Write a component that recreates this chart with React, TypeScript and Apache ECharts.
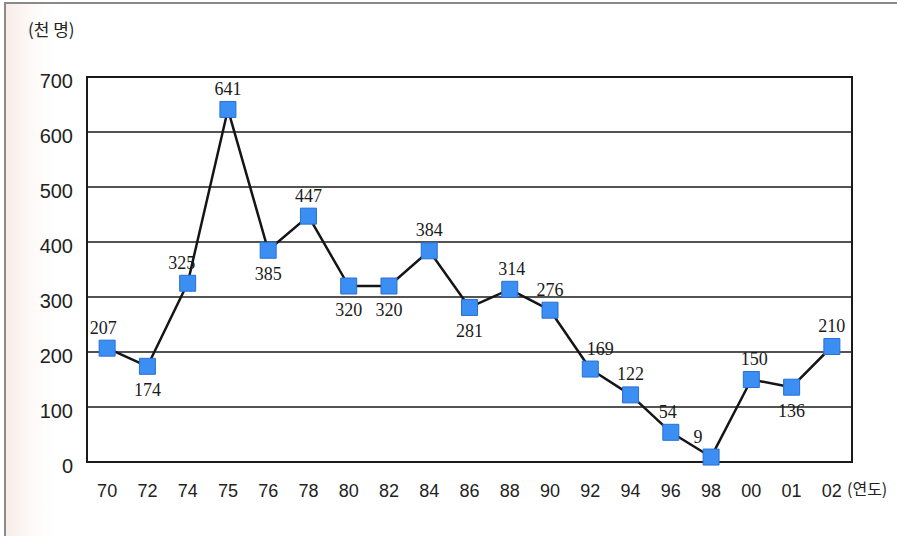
import React, { useEffect, useRef } from "react";
import * as echarts from "echarts";

// Years (two-digit) along the horizontal axis
const years = ["70", "72", "74", "75", "76", "78", "80", "82", "84", "86", "88", "90", "92", "94", "96", "98", "00", "01", "02"];
// Counts in thousands of people
const counts = [207, 174, 325, 641, 385, 447, 320, 320, 384, 281, 314, 276, 169, 122, 54, 9, 150, 136, 210];
// Where each value label sits relative to its marker
const labelSide = ["top", "bottom", "top", "top", "bottom", "top", "bottom", "bottom", "top", "bottom", "top", "top", "top", "top", "top", "top", "top", "bottom", "top"];
// Small horizontal nudges for a few crowded labels
const labelNudge = [-4, 0, -6, 0, 0, 0, 0, 0, 0, 0, 2, 0, 10, 0, -3, -13, 3, 0, 0];
const yTicks = [0, 100, 200, 300, 400, 500, 600, 700];

export default function App() {
  const ref = useRef<HTMLDivElement>(null);

  useEffect(() => {
    if (!ref.current) return;
    const chart = echarts.init(ref.current, null, { renderer: "svg" });

    const data = counts.map((v, i) => ({
      value: v,
      label: {
        position: labelSide[i] as any,
        offset: [labelNudge[i], labelSide[i] === "top" ? 2 : 1],
      },
    }));

    chart.setOption({
      animation: false,
      backgroundColor: "#ffffff",
      graphic: [
        {
          type: "rect",
          z: -10,
          silent: true,
          shape: { x: 5, y: 3, width: 60, height: 540 },
          style: {
            fill: new echarts.graphic.LinearGradient(0, 0, 1, 0, [
              { offset: 0, color: "rgba(240,215,205,0.5)" },
              { offset: 1, color: "rgba(255,255,255,0)" },
            ]),
          },
        },
        {
          type: "rect",
          z: -5,
          silent: true,
          shape: { x: 5, y: 3, width: 900, height: 540 },
          style: { fill: "none", stroke: "#8a8a8a", lineWidth: 2 },
        },
        {
          type: "text",
          left: 28,
          top: 20,
          style: {
            text: "(천 명)",
            font: "17px 'Noto Sans CJK KR', sans-serif",
            fill: "#222",
          },
        },
        {
          type: "text",
          left: 847,
          top: 480,
          style: {
            text: "(연도)",
            font: "16px 'Noto Sans CJK KR', sans-serif",
            fill: "#222",
          },
        },
      ],
      grid: {
        left: 87,
        right: 45,
        top: 77,
        bottom: 74,
        show: true,
        borderColor: "#1a1a1a",
        borderWidth: 2,
        backgroundColor: "transparent",
      },
      xAxis: {
        type: "category",
        data: years,
        boundaryGap: true,
        axisLine: { lineStyle: { color: "#1a1a1a", width: 2 } },
        axisTick: { inside: true, length: 12, lineStyle: { color: "#1a1a1a", width: 2 } },
        axisLabel: {
          margin: 20,
          fontFamily: "'Liberation Sans', Arial, sans-serif",
          fontSize: 18,
          color: "#222",
        },
        splitLine: { show: false },
      },
      yAxis: {
        type: "value",
        min: 0,
        max: 700,
        interval: 100,
        axisLine: { show: true, lineStyle: { color: "#1a1a1a", width: 2 } },
        axisTick: { show: false },
        axisLabel: {
          margin: 14,
          formatter: (v: number) => (yTicks.includes(v) ? `{n|${v}}` : ""),
          rich: {
            n: {
              padding: [8, 0, 0, 0],
              fontFamily: "'Liberation Sans', Arial, sans-serif",
              fontSize: 20,
              color: "#222",
            },
          },
        },
        splitLine: { show: true, lineStyle: { color: "#1a1a1a", width: 1.5 } },
      },
      series: [
        {
          type: "line",
          data,
          symbol: "rect",
          symbolSize: 16,
          showAllSymbol: true,
          lineStyle: { color: "#151515", width: 2.5 },
          itemStyle: {
            color: "#3b8ef2",
            borderColor: "#2a6fd6",
            borderWidth: 1,
          },
          label: {
            show: true,
            distance: 5,
            fontFamily: "'Liberation Serif', 'Times New Roman', serif",
            fontSize: 18,
            color: "#1a1a1a",
          },
          z: 3,
        },
      ],
    });

    return () => chart.dispose();
  }, []);

  return (
    <div style={{ position: "fixed", left: 0, top: 0, width: 897, height: 536 }}>
      <div ref={ref} style={{ width: 897, height: 536 }} />
    </div>
  );
}
